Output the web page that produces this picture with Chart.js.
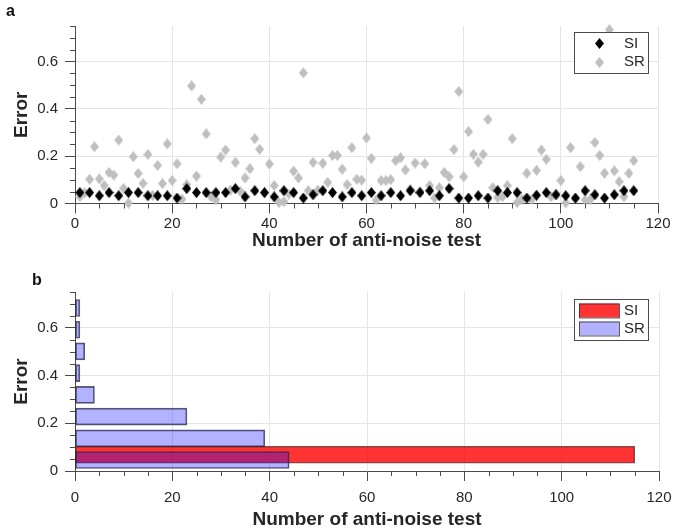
<!DOCTYPE html>
<html>
<head>
<meta charset="utf-8">
<script src="https://cdn.jsdelivr.net/npm/chart.js@4.4.0/dist/chart.umd.min.js"></script>
<style>
  body { margin: 0; background: #fff; width: 691px; height: 529px; position: relative; overflow: hidden;
         font-family: "Liberation Sans", Arial, Helvetica, sans-serif; }
  .panel { position: absolute; left: 0; }
  .tag { position: absolute; font-weight: bold; font-size: 16px; color: #111; }
</style>
</head>
<body>
<div class="panel" style="top:0"><canvas id="chartA" width="691" height="258"></canvas></div>
<div class="panel" style="top:258px"><canvas id="chartB" width="691" height="271"></canvas></div>
<div class="tag" style="left:6px;top:2px">a</div>
<div class="tag" style="left:32px;top:271px">b</div>
<script>
// error of each anti-noise test (SI plotted for every other test, SR for every test)
const siError = [
  0.046, 0.046, 0.033, 0.046, 0.033, 0.046, 0.046, 0.033, 0.033, 0.033,
  0.023, 0.063, 0.046, 0.046, 0.046, 0.046, 0.063, 0.028, 0.054, 0.046,
  0.028, 0.054, 0.046, 0.023, 0.037, 0.054, 0.046, 0.028, 0.046, 0.033,
  0.046, 0.033, 0.046, 0.033, 0.054, 0.046, 0.054, 0.033, 0.063, 0.023,
  0.023, 0.033, 0.023, 0.054, 0.046, 0.046, 0.023, 0.035, 0.046, 0.037,
  0.033, 0.023, 0.054, 0.037, 0.023, 0.037, 0.054, 0.054
];
const srError = [
  0.029, 0.045, 0.102, 0.240, 0.104, 0.076, 0.131, 0.120, 0.268, 0.064,
  0.002, 0.198, 0.127, 0.085, 0.207, 0.035, 0.161, 0.084, 0.252, 0.097,
  0.168, 0.018, 0.080, 0.497, 0.116, 0.440, 0.294, 0.029, 0.015, 0.196,
  0.226, 0.057, 0.174, 0.052, 0.108, 0.147, 0.274, 0.229, 0.045, 0.167,
  0.076, 0.004, 0.008, 0.040, 0.137, 0.108, 0.552, 0.054, 0.174, 0.057,
  0.170, 0.089, 0.203, 0.203, 0.145, 0.080, 0.236, 0.102, 0.099, 0.277,
  0.191, 0.015, 0.097, 0.097, 0.101, 0.181, 0.193, 0.142, 0.060, 0.171,
  0.050, 0.168, 0.076, 0.023, 0.067, 0.131, 0.113, 0.228, 0.473, 0.113,
  0.304, 0.208, 0.175, 0.208, 0.355, 0.067, 0.025, 0.029, 0.075, 0.274,
  0.004, 0.018, 0.128, 0.017, 0.140, 0.226, 0.187, 0.029, 0.040, 0.097,
  0.003, 0.236, 0.020, 0.156, 0.015, 0.015, 0.258, 0.203, 0.128, 0.734,
  0.138, 0.092, 0.029, 0.128, 0.181
];

// histogram of the errors above
const siBinCenters = [0.068];
const siBinCounts = [115];
const srBinCenters = [0.046, 0.137, 0.228, 0.319, 0.410, 0.501, 0.592, 0.683];
const srBinCounts = [44, 39, 23, 4, 1, 2, 1, 1];

const axisColor = '#4a4a4a';
const gridColor = '#e4e4e4';
const textColor = '#262626';
const fontFamily = '"Liberation Sans", Arial, Helvetica, sans-serif';

// diamond marker drawn once and reused as point style
function diamond(w, h, color) {
  const c = document.createElement('canvas');
  c.width = w; c.height = h;
  const g = c.getContext('2d');
  g.fillStyle = color;
  g.beginPath();
  g.moveTo(w / 2, 0); g.lineTo(w, h / 2); g.lineTo(w / 2, h); g.lineTo(0, h / 2);
  g.closePath(); g.fill();
  return c;
}

// short ticks between the labelled ones
const minorTicks = {
  id: 'minorTicks',
  afterDraw(chart, args, o) {
    const {ctx} = chart;
    const x = chart.scales.x, y = chart.scales.y;
    ctx.save();
    ctx.strokeStyle = axisColor;
    ctx.lineWidth = 1;
    ctx.beginPath();
    for (let k = 1; k * o.xStep <= x.max + 1e-9; k++) {
      if (k % o.xEvery === 0) continue;
      const px = Math.round(x.getPixelForValue(k * o.xStep)) + 0.5;
      ctx.moveTo(px, y.bottom); ctx.lineTo(px, y.bottom + o.len);
    }
    for (let k = 1; k * o.yStep <= y.max + 1e-9; k++) {
      if (k % o.yEvery === 0) continue;
      const py = Math.round(y.getPixelForValue(k * o.yStep)) + 0.5;
      ctx.moveTo(x.left, py); ctx.lineTo(x.left - o.len, py);
    }
    ctx.stroke();
    ctx.restore();
  }
};

// boxed legend sitting inside the top right corner of the plot
const boxLegend = {
  id: 'boxLegend',
  afterDraw(chart, args, o) {
    const {ctx, chartArea} = chart;
    const x0 = Math.round(chartArea.right - o.right - o.width);
    const y0 = Math.round(chartArea.top + o.top);
    ctx.save();
    ctx.fillStyle = '#fff';
    ctx.fillRect(x0, y0, o.width, o.height);
    ctx.strokeStyle = axisColor;
    ctx.lineWidth = 1;
    ctx.strokeRect(x0 + 0.5, y0 + 0.5, o.width, o.height);
    ctx.font = '15px ' + fontFamily;
    ctx.textBaseline = 'middle';
    chart.data.datasets.forEach((ds, i) => {
      const cy = y0 + o.rowTop + i * o.rowGap;
      if (o.swatch) {
        ctx.fillStyle = ds.backgroundColor;
        ctx.fillRect(x0 + o.markX, cy - o.swatch.h / 2, o.swatch.w, o.swatch.h);
        ctx.strokeStyle = ds.borderColor;
        ctx.strokeRect(x0 + o.markX + 0.5, cy - o.swatch.h / 2 + 0.5, o.swatch.w, o.swatch.h);
      } else {
        const img = ds.pointStyle;
        ctx.drawImage(img, Math.round(x0 + o.markX - img.width / 2), Math.round(cy - img.height / 2));
      }
      ctx.fillStyle = textColor;
      ctx.fillText(ds.label, x0 + o.textX, cy);
    });
    ctx.restore();
  }
};

function xAxis(labelPad, titlePad, height) {
  return {
    type: 'linear', min: 0, max: 120,
    ticks: { stepSize: 20, color: textColor, padding: labelPad, font: { family: fontFamily, size: 15 } },
    grid: { color: gridColor, tickColor: axisColor, tickLength: 10 },
    border: { color: axisColor },
    title: { display: true, text: 'Number of anti-noise test', color: textColor,
             font: { family: fontFamily, size: 19, weight: 'bold', lineHeight: 1 },
             padding: { top: 0, bottom: titlePad } },
    afterFit(s) { s.height = height; }
  };
}

function yAxis() {
  return {
    type: 'linear', min: 0, max: 0.75, offset: false,
    ticks: { stepSize: 0.2, includeBounds: false, color: textColor, padding: 7,
             font: { family: fontFamily, size: 15 } },
    grid: { color: gridColor, tickColor: axisColor, tickLength: 10, offset: false },
    border: { color: axisColor },
    title: { display: true, text: 'Error', color: textColor,
             font: { family: fontFamily, size: 19, weight: 'bold', lineHeight: 1 },
             padding: { top: 12, bottom: 0 } },
    afterFit(s) { s.width = 75; }
  };
}

new Chart(document.getElementById('chartA'), {
  type: 'scatter',
  data: {
    datasets: [
      {
        label: 'SI',
        data: siError.map((v, i) => ({ x: 2 * i + 1, y: v })),
        pointStyle: diamond(9, 11, '#000000'),
        clip: false
      },
      {
        label: 'SR',
        data: srError.map((v, i) => ({ x: i + 1, y: v })),
        pointStyle: diamond(9, 11, '#bfbfbf'),
        clip: false
      }
    ]
  },
  options: {
    responsive: false,
    animation: false,
    events: [],
    layout: { padding: { top: 26, right: 33, left: 0, bottom: 0 } },
    scales: { x: xAxis(1, 8, 54.5), y: yAxis() },
    plugins: {
      legend: { display: false },
      tooltip: { enabled: false },
      minorTicks: { xStep: 5, xEvery: 4, yStep: 0.05, yEvery: 4, len: 5 },
      boxLegend: { right: 10, top: 5.5, width: 74, height: 41, markX: 25, textX: 50, rowTop: 11.5, rowGap: 18.5 }
    }
  },
  plugins: [minorTicks, boxLegend]
});

new Chart(document.getElementById('chartB'), {
  type: 'bar',
  data: {
    datasets: [
      {
        label: 'SI',
        data: siBinCenters.map((c, i) => ({ x: siBinCounts[i], y: c })),
        backgroundColor: 'rgba(255, 0, 0, 0.8)',
        borderColor: 'rgba(40, 40, 40, 0.75)',
        order: 1
      },
      {
        label: 'SR',
        data: srBinCenters.map((c, i) => ({ x: srBinCounts[i], y: c })),
        backgroundColor: 'rgba(0, 0, 255, 0.3)',
        borderColor: 'rgba(40, 40, 40, 0.75)',
        order: 0
      }
    ]
  },
  options: {
    indexAxis: 'y',
    responsive: false,
    animation: false,
    events: [],
    grouped: false,
    datasets: { bar: { barThickness: 17, borderWidth: 1, borderSkipped: false } },
    layout: { padding: { top: 34, right: 32, left: 0, bottom: 0 } },
    scales: { x: xAxis(8, 0, 58), y: yAxis() },
    plugins: {
      legend: { display: false },
      tooltip: { enabled: false },
      minorTicks: { xStep: 5, xEvery: 4, yStep: 0.05, yEvery: 4, len: 5 },
      boxLegend: { right: 11, top: 7, width: 74, height: 41, markX: 5, textX: 50, rowTop: 11.5, rowGap: 18,
                   swatch: { w: 40, h: 14 } }
    }
  },
  plugins: [minorTicks, boxLegend]
});
</script>
</body>
</html>
